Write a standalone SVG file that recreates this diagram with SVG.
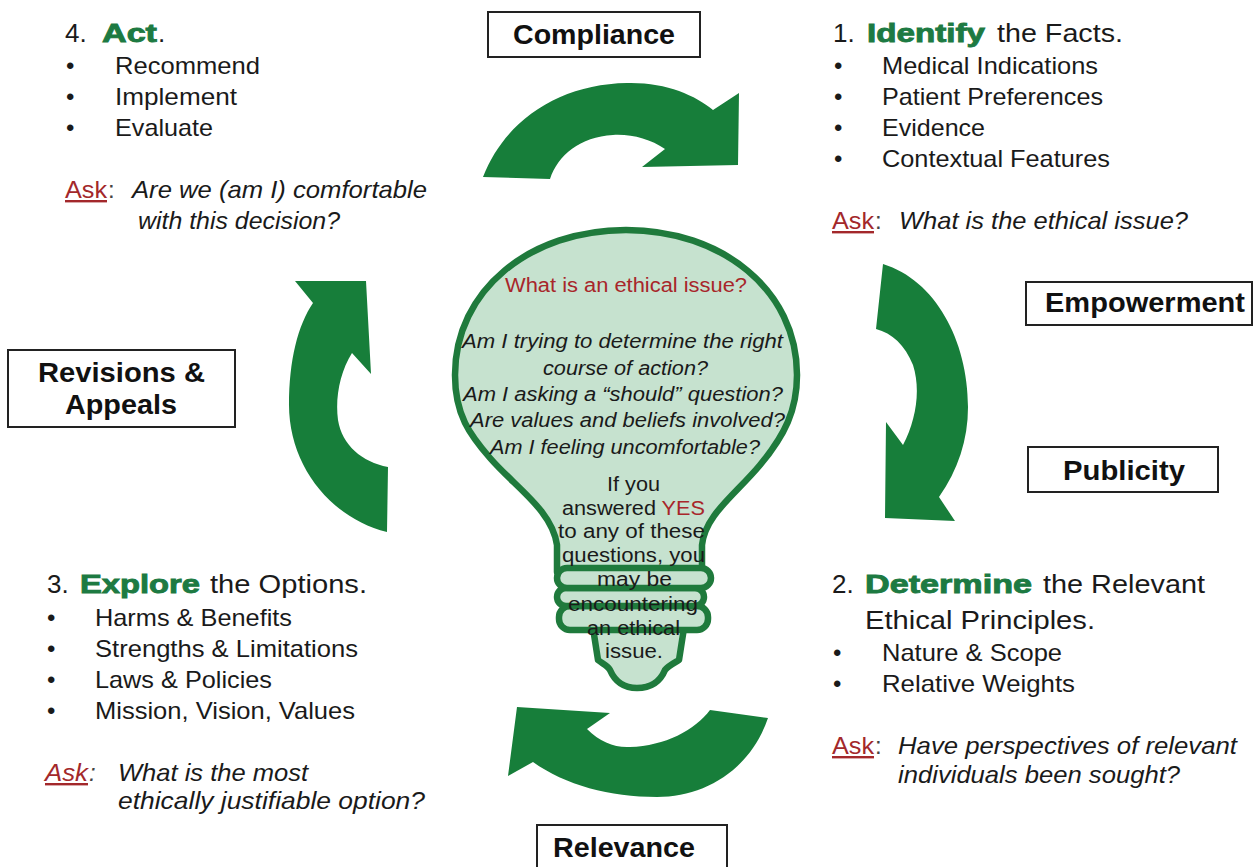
<svg xmlns="http://www.w3.org/2000/svg" width="1254" height="867" viewBox="0 0 1254 867">
<style>
text{font-family:"Liberation Sans",Arial,sans-serif;fill:#1a1a1a}
.b{font-size:24px}
.h{font-size:26px}
.g{font-weight:bold;fill:#1d7a42;stroke:#1d7a42;stroke-width:0.9}
.it{font-style:italic}
.ask{fill:#a3282b;text-decoration:underline}
.col{fill:#444}
.bx{font-size:28px;font-weight:bold;fill:#111}
.box{fill:#fff;stroke:#222;stroke-width:2}
.arrow{fill:#177e3a}
.bulb{fill:#c6e2cf;stroke:#1f7a3c;stroke-width:6.5;stroke-linejoin:round}
.bt{font-size:20px}
.red{fill:#a8262a}
</style>

<g id="connectors">
<path class="arrow" d="M483,177 C505,120 560,84 627,83 C665,82 695,95 713,110 L739,93 L738,165 L642,167 L665,149 C650,139 632,134 613,135 C580,137 558,155 550,179 Z"/>
<path class="arrow" d="M883,264 C935,280 968,340 968,407 C968,440 958,470 939,497 L955,521 L885,518 L886,422 L903,445 C916,420 921,390 913,365 C905,345 892,333 876,329 Z"/>
<path class="arrow" d="M768,718 C750,770 705,797 657,797 C610,797 565,785 533,762 L508,776 L517,707 L610,713 L587,729 C600,742 615,748 630,747 C665,746 695,730 710,710 Z"/>
<path class="arrow" d="M387,532 C330,518 289,465 289,405 C289,360 298,325 313,303 L295,281 L366,281 L371,374 L352,353 C340,372 335,398 338,420 C342,445 362,462 388,467 Z"/>
</g>

<g id="bulb">
<path class="bulb" d="M557,572 L557,545 C552,510 515,487 490,458 C470,435 455,415 455,375 C455,290 530,230 626,230 C722,230 797,290 797,375 C797,410 785,435 760,465 C735,495 705,515 702,545 L702,572 Z"/>
<path class="bulb" d="M593,628 L598,660 C603,664 608,666 610,670 C616,684 626,688 637,688 C650,688 660,682 665,670 C668,666 674,663 679,660 L684,628 Z"/>
<rect class="bulb" x="559" y="606" width="149" height="24" rx="11"/>
<rect class="bulb" x="557" y="588" width="147" height="18" rx="9"/>
<rect class="bulb" x="557" y="568" width="154" height="20" rx="10"/>
<text class="bt red" x="505" y="292" textLength="242" lengthAdjust="spacingAndGlyphs">What is an ethical issue?</text>
<text class="bt it" x="462" y="348" textLength="321" lengthAdjust="spacingAndGlyphs">Am I trying to determine the right</text>
<text class="bt it" x="543" y="375" textLength="165" lengthAdjust="spacingAndGlyphs">course of action?</text>
<text class="bt it" x="463" y="401" textLength="320" lengthAdjust="spacingAndGlyphs">Am I asking a “should” question?</text>
<text class="bt it" x="470" y="427" textLength="315" lengthAdjust="spacingAndGlyphs">Are values and beliefs involved?</text>
<text class="bt it" x="490" y="454" textLength="270" lengthAdjust="spacingAndGlyphs">Am I feeling uncomfortable?</text>
<text class="bt" x="607" y="491" textLength="53" lengthAdjust="spacingAndGlyphs">If you</text>
<text class="bt" x="562" y="515" textLength="143" lengthAdjust="spacingAndGlyphs">answered <tspan class="red">YES</tspan></text>
<text class="bt" x="558" y="538" textLength="147" lengthAdjust="spacingAndGlyphs">to any of these</text>
<text class="bt" x="562" y="562" textLength="143" lengthAdjust="spacingAndGlyphs">questions, you</text>
<text class="bt" x="597" y="586" textLength="75" lengthAdjust="spacingAndGlyphs">may be</text>
<text class="bt" x="568" y="611" textLength="130" lengthAdjust="spacingAndGlyphs">encountering</text>
<text class="bt" x="587" y="635" textLength="93" lengthAdjust="spacingAndGlyphs">an ethical</text>
<text class="bt" x="605" y="658" textLength="58" lengthAdjust="spacingAndGlyphs">issue.</text>
</g>

<g id="compliance">
<rect class="box" x="488" y="12" width="212" height="45"/>
<text class="bx" x="513" y="44" textLength="162" lengthAdjust="spacingAndGlyphs">Compliance</text>
</g>
<g id="empowerment">
<rect class="box" x="1026" y="282" width="226" height="43"/>
<text class="bx" x="1045" y="312" textLength="200" lengthAdjust="spacingAndGlyphs">Empowerment</text>
</g>
<g id="publicity">
<rect class="box" x="1028" y="447" width="190" height="45"/>
<text class="bx" x="1063" y="480" textLength="122" lengthAdjust="spacingAndGlyphs">Publicity</text>
</g>
<g id="revisions">
<rect class="box" x="8" y="350" width="227" height="77"/>
<text class="bx" x="38" y="382" textLength="167" lengthAdjust="spacingAndGlyphs">Revisions &amp;</text>
<text class="bx" x="65" y="414" textLength="112" lengthAdjust="spacingAndGlyphs">Appeals</text>
</g>
<g id="relevance">
<rect class="box" x="537" y="825" width="190" height="50"/>
<text class="bx" x="553" y="857" textLength="142" lengthAdjust="spacingAndGlyphs">Relevance</text>
</g>

<g id="step4">
<text class="h" x="65" y="42">4.</text>
<text class="h g" x="102" y="42" textLength="55" lengthAdjust="spacingAndGlyphs">Act</text>
<text class="h" x="158" y="42">.</text>
<text class="b" x="66" y="74">•</text>
<text class="b" x="66" y="105">•</text>
<text class="b" x="66" y="136">•</text>
<text class="b" x="115" y="74" textLength="145" lengthAdjust="spacingAndGlyphs">Recommend</text>
<text class="b" x="115" y="105" textLength="122" lengthAdjust="spacingAndGlyphs">Implement</text>
<text class="b" x="115" y="136" textLength="98" lengthAdjust="spacingAndGlyphs">Evaluate</text>
<text class="b ask" x="65" y="198" textLength="42" lengthAdjust="spacingAndGlyphs">Ask</text>
<text class="b col" x="108" y="198">:</text>
<text class="b it" x="132" y="198" textLength="295" lengthAdjust="spacingAndGlyphs">Are we (am I) comfortable</text>
<text class="b it" x="138" y="229" textLength="202" lengthAdjust="spacingAndGlyphs">with this decision?</text>
</g>

<g id="step1">
<text class="h" x="833" y="42">1.</text>
<text class="h g" x="867" y="42" textLength="118" lengthAdjust="spacingAndGlyphs">Identify</text>
<text class="h" x="997" y="42" textLength="126" lengthAdjust="spacingAndGlyphs">the Facts.</text>
<text class="b" x="834" y="74">•</text>
<text class="b" x="834" y="105">•</text>
<text class="b" x="834" y="136">•</text>
<text class="b" x="834" y="167">•</text>
<text class="b" x="882" y="74" textLength="216" lengthAdjust="spacingAndGlyphs">Medical Indications</text>
<text class="b" x="882" y="105" textLength="221" lengthAdjust="spacingAndGlyphs">Patient Preferences</text>
<text class="b" x="882" y="136" textLength="103" lengthAdjust="spacingAndGlyphs">Evidence</text>
<text class="b" x="882" y="167" textLength="228" lengthAdjust="spacingAndGlyphs">Contextual Features</text>
<text class="b ask" x="832" y="229" textLength="42" lengthAdjust="spacingAndGlyphs">Ask</text>
<text class="b col" x="875" y="229">:</text>
<text class="b it" x="899" y="229" textLength="289" lengthAdjust="spacingAndGlyphs">What is the ethical issue?</text>
</g>

<g id="step3">
<text class="h" x="47" y="593">3.</text>
<text class="h g" x="80" y="593" textLength="120" lengthAdjust="spacingAndGlyphs">Explore</text>
<text class="h" x="210" y="593" textLength="157" lengthAdjust="spacingAndGlyphs">the Options.</text>
<text class="b" x="47" y="626">•</text>
<text class="b" x="47" y="657">•</text>
<text class="b" x="47" y="688">•</text>
<text class="b" x="47" y="719">•</text>
<text class="b" x="95" y="626" textLength="197" lengthAdjust="spacingAndGlyphs">Harms &amp; Benefits</text>
<text class="b" x="95" y="657" textLength="263" lengthAdjust="spacingAndGlyphs">Strengths &amp; Limitations</text>
<text class="b" x="95" y="688" textLength="177" lengthAdjust="spacingAndGlyphs">Laws &amp; Policies</text>
<text class="b" x="95" y="719" textLength="260" lengthAdjust="spacingAndGlyphs">Mission, Vision, Values</text>
<text class="b ask it" x="45" y="781" textLength="43" lengthAdjust="spacingAndGlyphs">Ask</text>
<text class="b col it" x="89" y="781">:</text>
<text class="b it" x="118" y="781" textLength="190" lengthAdjust="spacingAndGlyphs">What is the most</text>
<text class="b it" x="118" y="809" textLength="307" lengthAdjust="spacingAndGlyphs">ethically  justifiable option?</text>
</g>

<g id="step2">
<text class="h" x="832" y="593">2.</text>
<text class="h g" x="865" y="593" textLength="167" lengthAdjust="spacingAndGlyphs">Determine</text>
<text class="h" x="1043" y="593" textLength="162" lengthAdjust="spacingAndGlyphs">the Relevant</text>
<text class="h" x="865" y="629" textLength="230" lengthAdjust="spacingAndGlyphs">Ethical Principles.</text>
<text class="b" x="833" y="661">•</text>
<text class="b" x="833" y="692">•</text>
<text class="b" x="882" y="661" textLength="180" lengthAdjust="spacingAndGlyphs">Nature &amp; Scope</text>
<text class="b" x="882" y="692" textLength="193" lengthAdjust="spacingAndGlyphs">Relative  Weights</text>
<text class="b ask" x="832" y="754" textLength="42" lengthAdjust="spacingAndGlyphs">Ask</text>
<text class="b col" x="875" y="754">:</text>
<text class="b it" x="898" y="754" textLength="339" lengthAdjust="spacingAndGlyphs">Have perspectives of relevant</text>
<text class="b it" x="898" y="783" textLength="282" lengthAdjust="spacingAndGlyphs">individuals been sought?</text>
</g>
</svg>
